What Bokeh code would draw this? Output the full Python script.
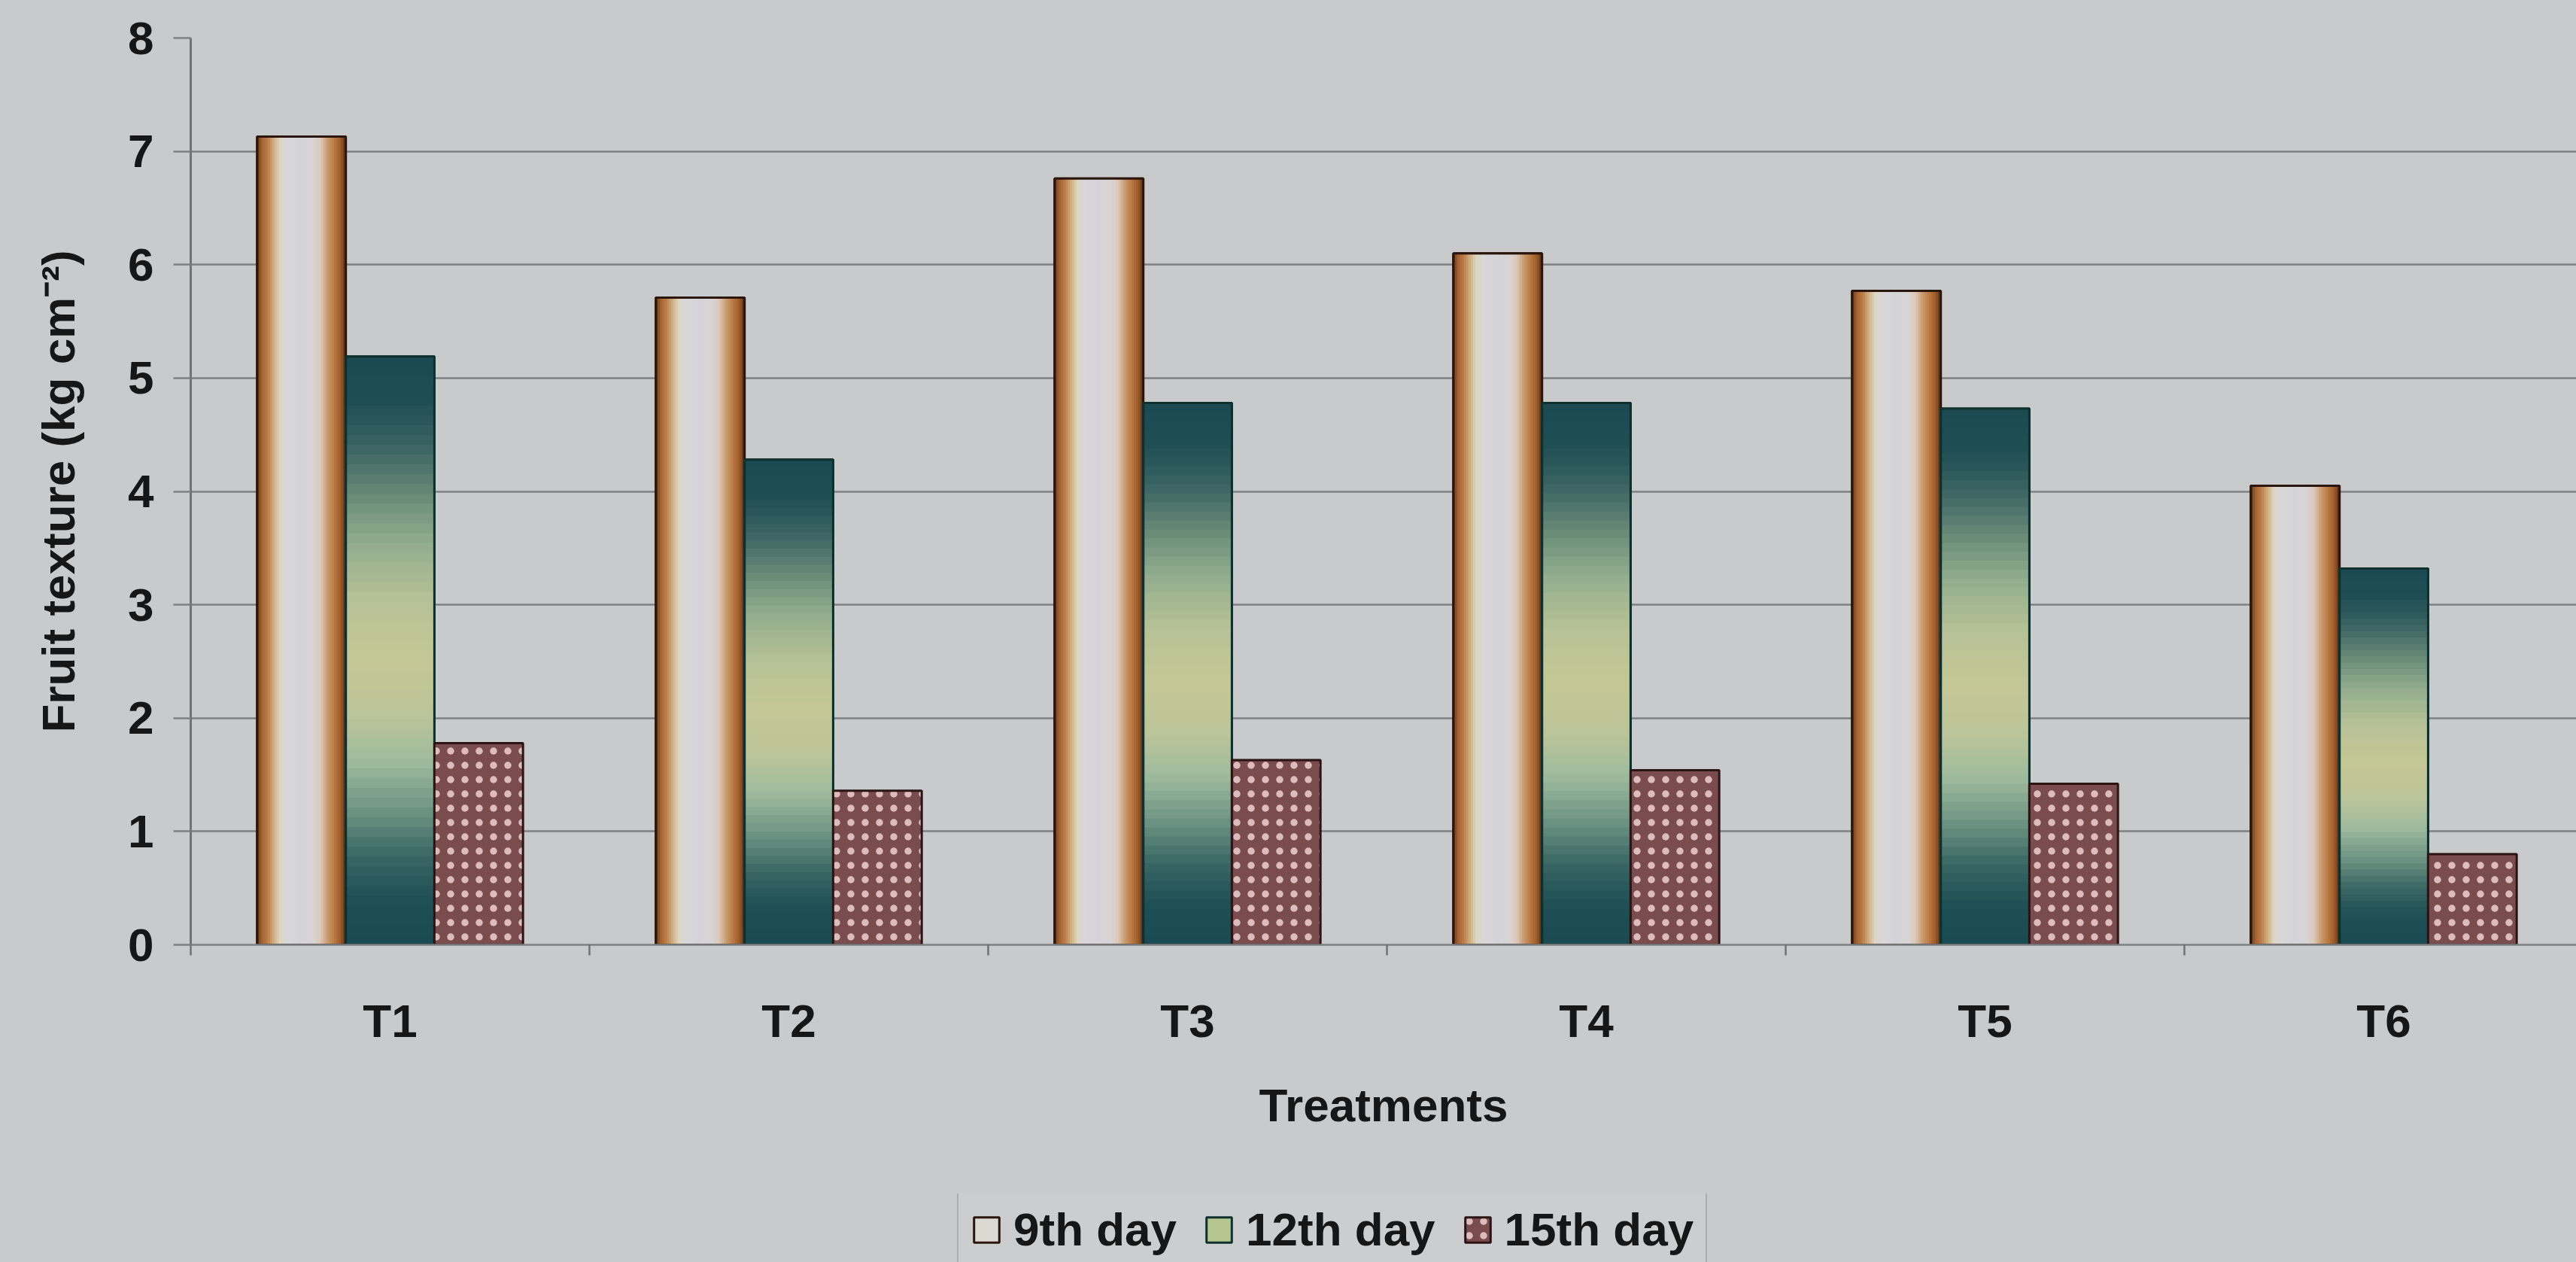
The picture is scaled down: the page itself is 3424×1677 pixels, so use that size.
from bokeh.plotting import figure
from bokeh.layouts import column
from bokeh.models import Range1d, FixedTicker, Legend, LegendItem
from bokeh.embed import file_html
from bokeh.resources import INLINE

# ---------------- data ----------------
treatments = ["T1", "T2", "T3", "T4", "T5", "T6"]
series_names = ["9th day", "12th day", "15th day"]
day9 = [7.13, 5.71, 6.76, 6.10, 5.77, 4.05]
day12 = [5.19, 4.28, 4.78, 4.78, 4.73, 3.32]
day15 = [1.78, 1.36, 1.63, 1.54, 1.42, 0.80]
y_ticks = [0, 1, 2, 3, 4, 5, 6, 7, 8]
x_title = "Treatments"
y_title = "Fruit texture (kg cm\u207b\u00b2)"

# ---------------- style ----------------
BG = "#c8cacc"
GRID = "#7e8082"
TEXT = "#161616"
FONT = "Liberation Sans"
FS = "62px"
W = 3424
H_MAIN = 1586
H_LEG = 91
LEFT = 253

# horizontal gradient of the 9th-day bars (left -> right)
stops9 = [(0.00, "#5a2e12"), (0.05, "#a0602e"), (0.12, "#bb7c48"), (0.19, "#cfae80"),
          (0.26, "#dcd6c2"), (0.34, "#d8d6d8"), (0.50, "#d4d4d8"), (0.64, "#d8d4d4"),
          (0.72, "#dcc8b8"), (0.80, "#c89a6c"), (0.88, "#b87640"), (0.95, "#9a5a28"),
          (1.00, "#5a2e12")]
# vertical gradient of the 12th-day bars (top -> bottom)
stops12 = [(0.00, "#1b4a52"), (0.08, "#1f4e55"), (0.16, "#3e6664"), (0.24, "#6a8c78"),
           (0.32, "#93ae8e"), (0.42, "#b8c296"), (0.52, "#c4c795"), (0.61, "#bcc499"),
           (0.69, "#9dba9c"), (0.77, "#6e9484"), (0.85, "#3a6664"), (0.92, "#1f5056"),
           (1.00, "#1b4a52")]


def hex2rgb(h):
    h = h.lstrip("#")
    return [int(h[i:i + 2], 16) for i in (0, 2, 4)]


def color_at(stops, t):
    for (t0, c0), (t1, c1) in zip(stops, stops[1:]):
        if t0 <= t <= t1:
            f = 0 if t1 == t0 else (t - t0) / (t1 - t0)
            a, b = hex2rgb(c0), hex2rgb(c1)
            return "#%02x%02x%02x" % tuple(round(a[i] + (b[i] - a[i]) * f) for i in range(3))
    return stops[-1][1]


n_cat = len(treatments)
centers = [i + 0.5 for i in range(n_cat)]
bw = 2.0 / 9.0  # Excel 150% gap width
off = [-bw, 0.0, bw]

p = figure(width=W, height=H_MAIN, output_backend="svg", toolbar_location=None,
           x_range=Range1d(0, 5.983), y_range=Range1d(0, 8),
           min_border_left=LEFT, min_border_right=0, min_border_top=50, min_border_bottom=331)
p.background_fill_color = BG
p.border_fill_color = BG
p.outline_line_color = None

STY9 = dict(fill_color="#dcd8d2", line_color="#2a160c", line_width=3)
STY12 = dict(fill_color="#b4c68e", line_color="#10302e", line_width=3)
STY15 = dict(fill_color="#7b4c4e", line_color="#2a1414", line_width=3,
             hatch_pattern="dot", hatch_color="#dcbcbc", hatch_scale=19, hatch_weight=3)

# base bars
p.vbar(x=[c + off[0] for c in centers], top=day9, width=bw, **STY9)
p.vbar(x=[c + off[1] for c in centers], top=day12, width=bw, **STY12)

# 9th day: horizontal gradient stripes
N9 = 40
sx, sw, st, sc = [], [], [], []
for c, v in zip(centers, day9):
    left = c + off[0] - bw / 2
    for k in range(N9):
        t = (k + 0.5) / N9
        sx.append(left + t * bw)
        sw.append(bw / N9 * 1.35)
        st.append(v)
        sc.append(color_at(stops9, t))
p.vbar(x=sx, width=sw, top=st, bottom=0, fill_color=sc, line_color=None)

# 12th day: vertical gradient segments
N12 = 60
gx, gb, gt, gc = [], [], [], []
for c, v in zip(centers, day12):
    for k in range(N12):
        t = (k + 0.5) / N12
        gx.append(c + off[1])
        gb.append(v * k / N12)
        gt.append(min(v, v * (k + 1.4) / N12))
        gc.append(color_at(stops12, 1 - t))
p.vbar(x=gx, width=bw, bottom=gb, top=gt, fill_color=gc, line_color=None)

# outlines
p.vbar(x=[c + off[0] for c in centers], top=day9, width=bw, fill_color=None,
       line_color="#2a160c", line_width=3)
p.vbar(x=[c + off[1] for c in centers], top=day12, width=bw, fill_color=None,
       line_color="#10302e", line_width=3)

# 15th day: dotted maroon
p.vbar(x=[c + off[2] for c in centers], top=day15, width=bw, **STY15)

# grid
p.xgrid.visible = False
p.ygrid.ticker = FixedTicker(ticks=y_ticks)
p.ygrid.grid_line_color = GRID
p.ygrid.grid_line_width = 2.5

# y axis
ya = p.yaxis[0]
ya.ticker = FixedTicker(ticks=y_ticks)
ya.axis_line_color = "#707274"
ya.axis_line_width = 3
ya.major_tick_line_color = GRID
ya.major_tick_line_width = 2.5
ya.major_tick_out = 23
ya.major_tick_in = 0
ya.minor_tick_line_color = None
ya.major_label_standoff = 26
ya.major_label_text_font = FONT
ya.major_label_text_font_style = "bold"
ya.major_label_text_font_size = FS
ya.major_label_text_color = TEXT
ya.axis_label = y_title
ya.axis_label_text_font = FONT
ya.axis_label_text_font_style = "bold"
ya.axis_label_text_font_size = FS
ya.axis_label_text_color = TEXT
ya.axis_label_standoff = 55

# x axis
xa = p.xaxis[0]
xa.ticker = FixedTicker(ticks=centers, minor_ticks=list(range(n_cat + 1)))
xa.major_label_overrides = {c: t for c, t in zip(centers, treatments)}
xa.axis_line_color = GRID
xa.axis_line_width = 2.5
xa.major_tick_line_color = None
xa.major_tick_out = 0
xa.major_tick_in = 0
xa.minor_tick_line_color = "#707274"
xa.minor_tick_line_width = 2.5
xa.minor_tick_out = 14
xa.minor_tick_in = 0
xa.major_label_standoff = 52
xa.major_label_text_font = FONT
xa.major_label_text_font_style = "bold"
xa.major_label_text_font_size = FS
xa.major_label_text_color = TEXT
xa.axis_label = x_title
xa.axis_label_text_font = FONT
xa.axis_label_text_font_style = "bold"
xa.axis_label_text_font_size = FS
xa.axis_label_text_color = TEXT
xa.axis_label_standoff = 40

# ---------------- legend strip ----------------
q = figure(width=W, height=H_LEG, output_backend="svg", toolbar_location=None,
           x_range=Range1d(0, 1), y_range=Range1d(0, 1), x_axis_type=None, y_axis_type=None,
           min_border_left=LEFT, min_border_right=0, min_border_top=0, min_border_bottom=0)
q.background_fill_color = BG
q.background_fill_alpha = 0.0
q.border_fill_color = BG
q.outline_line_color = None
q.grid.visible = False
# swatch sources: one tiny mark hidden beneath the legend box
l9 = q.vbar(x=[0.5], bottom=[0.45], top=[0.5], width=0.001, **STY9)
l12 = q.vbar(x=[0.5], bottom=[0.45], top=[0.5], width=0.001, **STY12)
l15 = q.vbar(x=[0.5], bottom=[0.45], top=[0.5], width=0.001, **STY15)

legend = Legend(
    items=[LegendItem(label=series_names[0], renderers=[l9]),
           LegendItem(label=series_names[1], renderers=[l12]),
           LegendItem(label=series_names[2], renderers=[l15])],
    orientation="horizontal", location=(1272 - LEFT, -10),
    label_text_font=FONT, label_text_font_style="bold", label_text_font_size=FS,
    label_text_color=TEXT, glyph_width=42, glyph_height=42, label_standoff=15,
    spacing=35, padding=16, margin=0, border_line_color="#8c8e90", border_line_width=2,
    background_fill_color="#cbcdcf", background_fill_alpha=1.0)
q.add_layout(legend)

layout = column(p, q, spacing=0, styles={"background-color": BG})
open("out.html", "w").write(file_html(layout, INLINE))
